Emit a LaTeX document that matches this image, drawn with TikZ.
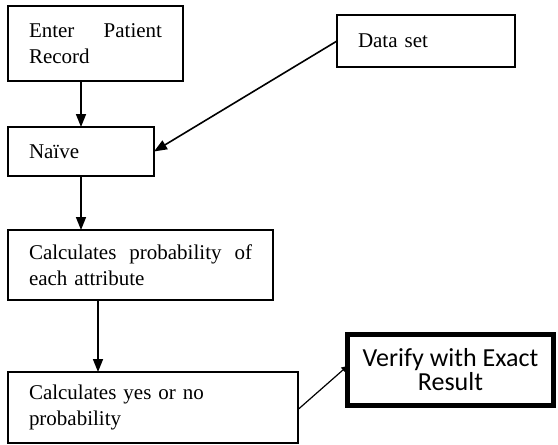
\documentclass[tikz,border=0pt]{standalone}
\usepackage{fontspec}
\setmainfont{Liberation Serif}
\newfontfamily\carlito{Carlito}
\usetikzlibrary{arrows.meta}

\begin{document}
\begin{tikzpicture}[x=1pt, y=-1pt,
  box/.style={draw, rectangle, line width=1.6pt, outer sep=0pt, anchor=north west,
    inner xsep=21pt, inner ysep=0pt, align=left, font=\fontsize{21}{26}\selectfont},
  arr/.style={line width=1.6pt, -{Triangle[width=10pt,length=13pt]}}]
\useasboundingbox (0,0) rectangle (558,445);
% Draw boxes
\node[box, text width=133pt, minimum height=75pt] (record) at (8,6) {Enter\hfill Patient\\Record};
\node[box, text width=136pt, minimum height=52pt] (data) at (337,15) {Data set};
\node[box, text width=104pt, minimum height=49pt] (naive) at (8,127) {Naïve};
\node[box, text width=223pt, minimum height=70pt] (calc) at (8,230) {Calculates\hfill probability\hfill of\\each attribute};
\node[box, text width=248pt, minimum height=71pt] (yesno) at (8,372) {Calculates yes or no\\probability};
\node[draw, rectangle, line width=5pt, outer sep=0pt, anchor=north west, inner sep=0pt,
  minimum width=206pt, minimum height=71pt, align=center,
  font=\carlito\fontsize{26}{24}\selectfont] (verify) at (347.5,334.5) {Verify with Exact\\Result};
% Draw arrows
\draw[arr] (naive.north |- record.south) -- (naive.north);
\draw[arr] (data.west) -- (naive.east);
\draw[arr] (naive.south) -- (naive.south |- calc.north);
\coordinate (split) at ([xshift=-42.5pt]calc.south);
\draw[arr] (split) -- (split |- yesno.north);
\draw[line width=1.2pt, -{Triangle[width=6pt,length=6pt]}] ([yshift=-2pt]yesno.east) -- ([yshift=4pt]verify.west);
\end{tikzpicture}
\end{document}
